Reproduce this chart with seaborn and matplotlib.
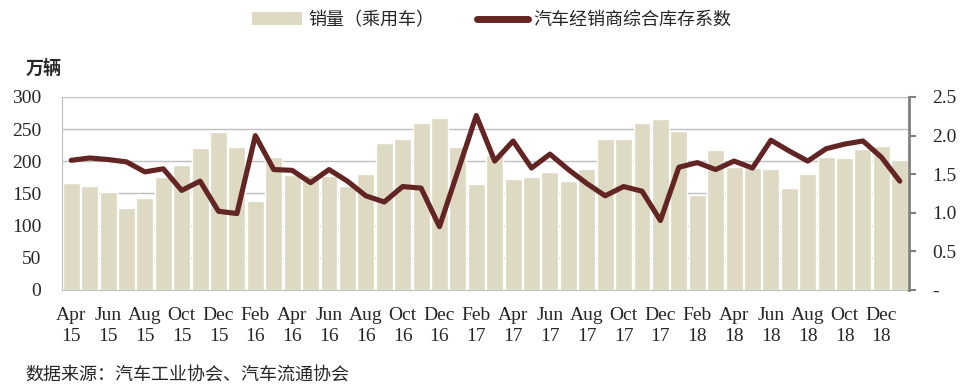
import pandas as pd
import matplotlib
matplotlib.use('Agg')
import matplotlib.pyplot as plt
import seaborn as sns
from matplotlib.patches import Patch
from matplotlib.lines import Line2D
from matplotlib.ticker import FuncFormatter

# months Apr 2015 .. Jan 2019
months = pd.date_range('2015-04-01', periods=46, freq='MS')
month_labels = [m.strftime('%b\n%y') for m in months]

# 销量（乘用车）, 万辆
sales = [167, 162, 152, 127, 143, 176, 194, 220, 245,
         223, 139, 206, 178, 179, 177, 161, 180, 228, 235, 259, 268,
         222, 164, 210, 173, 176, 184, 169, 188, 235, 235, 259, 266,
         247, 148, 218, 191, 189, 188, 159, 180, 206, 205, 219, 224,
         202]

# 汽车经销商综合库存系数
inventory = [1.68, 1.71, 1.69, 1.66, 1.53, 1.57, 1.29, 1.41, 1.02,
             0.99, 2.00, 1.56, 1.55, 1.39, 1.56, 1.41, 1.22, 1.14, 1.34, 1.32, 0.82,
             1.54, 2.26, 1.67, 1.93, 1.58, 1.76, 1.56, 1.38, 1.22, 1.34, 1.28, 0.90,
             1.59, 1.65, 1.56, 1.67, 1.58, 1.94, 1.80, 1.67, 1.83, 1.89, 1.93, 1.72,
             1.41]

left_ticks = [0, 50, 100, 150, 200, 250, 300]
right_ticks = [0, 0.5, 1.0, 1.5, 2.0, 2.5]

bar_color = '#DDD9C3'
line_color = '#632523'
cjk = ['Noto Sans CJK SC', 'DejaVu Sans']

sns.set_style('white')
plt.rcParams['font.family'] = ['Liberation Serif', 'Noto Sans CJK SC']
plt.rcParams['font.size'] = 14

df = pd.DataFrame({'idx': range(len(months)), 'sales': sales, 'inv': inventory})

fig = plt.figure(figsize=(9.7, 3.92), dpi=100)
ax = fig.add_axes([62 / 970, 1 - 290 / 392, (909 - 62) / 970, (290 - 97) / 392])

sns.barplot(data=df, x='idx', y='sales', color=bar_color, saturation=1,
            width=0.92, ax=ax, zorder=2)
ax.set_xlim(-0.5, len(months) - 0.5)
ax.set_ylim(0, 300)
ax.set_yticks(left_ticks)
ax.yaxis.grid(True, color='#BFBFBF', linewidth=1, zorder=0)
ax.set_axisbelow(True)
ax.set_xlabel('')
ax.set_ylabel('')
ax.set_xticks(range(0, len(months), 2))
ax.set_xticklabels(month_labels[::2], fontsize=14, linespacing=1.3)
ax.tick_params(axis='x', length=0, pad=12, labelsize=14)
ax.tick_params(axis='y', length=0, pad=15, labelsize=14)
for s in ['top', 'right']:
    ax.spines[s].set_visible(False)
ax.spines['left'].set_color('#BFBFBF')
ax.spines['bottom'].set_color('#BFBFBF')

ax2 = ax.twinx()
sns.lineplot(data=df, x='idx', y='inv', color=line_color, linewidth=3.7,
             ax=ax2, zorder=3, solid_capstyle='round')
ax2.set_ylim(0, 2.5)
ax2.set_yticks(right_ticks)
ax2.yaxis.set_major_formatter(FuncFormatter(lambda v, p: '-' if v == 0 else f'{v:.1f}'))
ax2.set_ylabel('')
ax2.set_xlabel('')
ax2.tick_params(axis='y', length=5, width=1.5, color='#808080', direction='out', pad=12, labelsize=14)
for s in ['top', 'left', 'bottom']:
    ax2.spines[s].set_visible(False)
ax2.spines['right'].set_color('#808080')
ax2.spines['right'].set_linewidth(2)
ax2.set_xlim(-0.5, len(months) - 0.5)

handles = [Patch(facecolor=bar_color, edgecolor='none'),
           Line2D([0], [0], color=line_color, linewidth=5)]
fig.legend(handles, ['销量（乘用车）', '汽车经销商综合库存系数'],
           loc='center', bbox_to_anchor=((253 + 730) / 2 / 970, 1 - 20 / 392),
           ncol=2, frameon=False, handlelength=2.8, handletextpad=0.3,
           columnspacing=2.4, prop={'family': cjk, 'size': 13})

fig.text(26 / 970, 1 - 68 / 392, '万辆', family=cjk, fontsize=13,
         fontweight='bold', ha='left', va='center')
fig.text(25 / 970, 1 - 375 / 392, '数据来源：汽车工业协会、汽车流通协会', family=cjk,
         fontsize=13, ha='left', va='center')

fig.savefig('out.png', dpi=100)
